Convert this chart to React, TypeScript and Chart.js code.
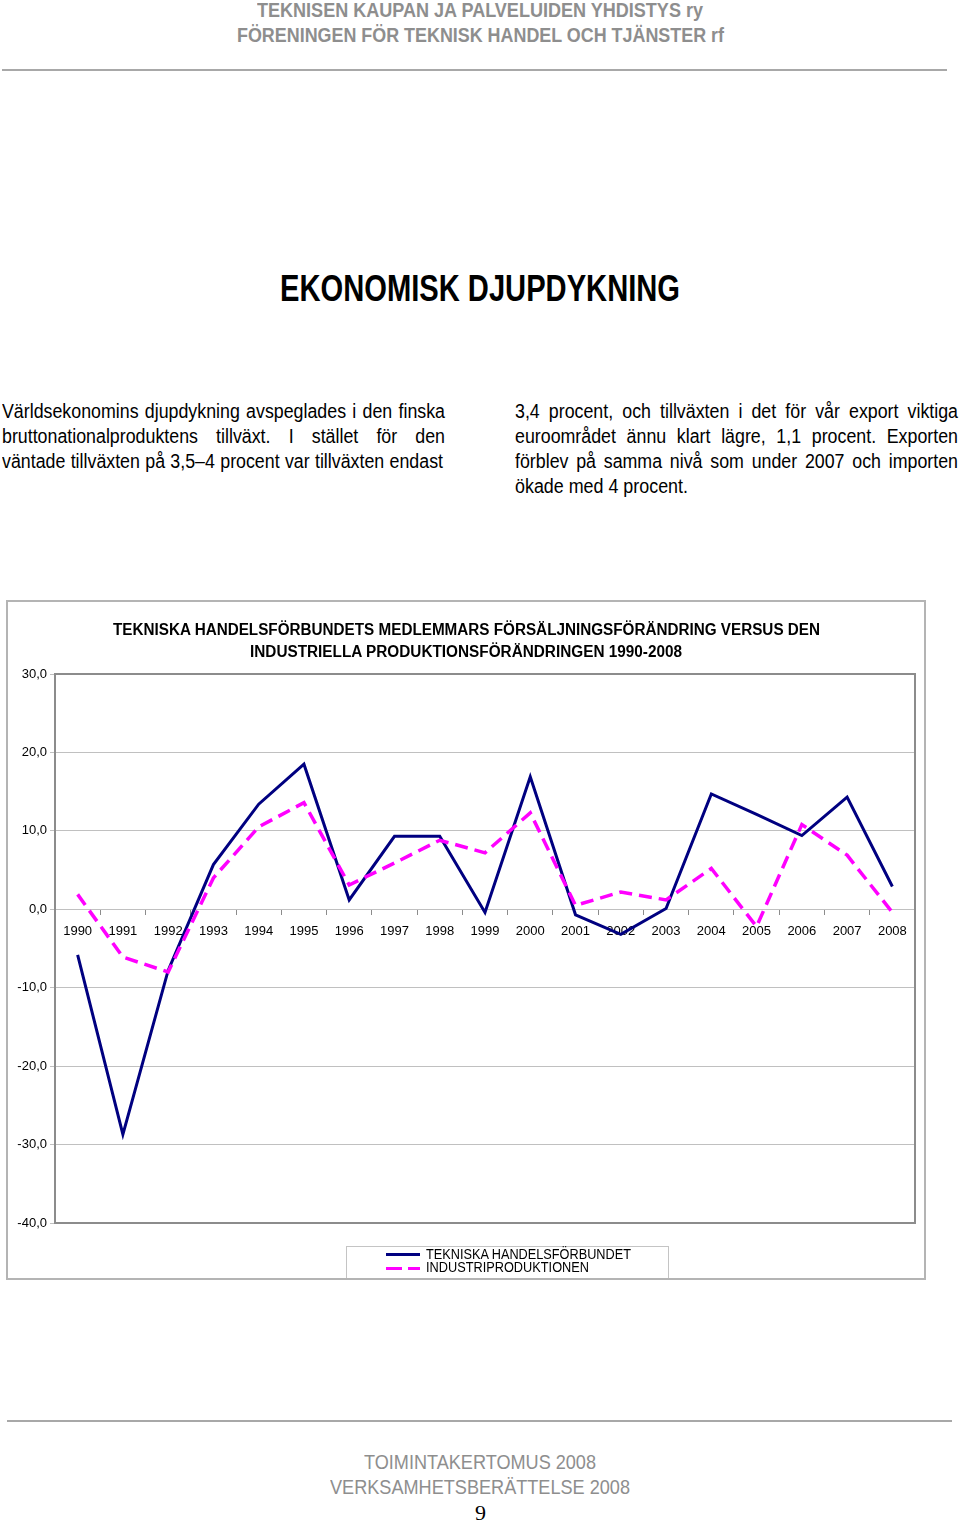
import React, { useEffect, useLayoutEffect, useRef } from "react";
import { Chart, registerables } from "chart.js";

Chart.register(...registerables);

const years = ["1990", "1991", "1992", "1993", "1994", "1995", "1996", "1997", "1998", "1999", "2000", "2001", "2002", "2003", "2004", "2005", "2006", "2007", "2008"];
const tekniska = [-5.8, -28.7, -7.8, 5.7, 13.4, 18.5, 1.2, 9.3, 9.3, -0.4, 16.9, -0.7, -3.2, 0.1, 14.7, 12.1, 9.4, 14.3, 2.9];
const industri = [1.9, -6.1, -8.0, 4.0, 10.5, 13.6, 3.1, 5.9, 8.8, 7.2, 12.3, 0.5, 2.2, 1.2, 5.2, -2.2, 10.8, 6.9, -0.4];
const seriesNames = ["TEKNISKA HANDELSFÖRBUNDET", "INDUSTRIPRODUKTIONEN"];
const chartTitle = [
  "TEKNISKA HANDELSFÖRBUNDETS MEDLEMMARS FÖRSÄLJNINGSFÖRÄNDRING VERSUS DEN",
  "INDUSTRIELLA PRODUKTIONSFÖRÄNDRINGEN 1990-2008",
];
const yMin = -40;
const yMax = 30;
const yStep = 10;

const SANS = '"Liberation Sans", Arial, sans-serif';
const SERIF = '"Liberation Serif", "Times New Roman", serif';

type TLProps = {
  text: string;
  x: number;
  y: number;
  w: number;
  size: number;
  weight?: number;
  color?: string;
  family?: string;
  justify?: boolean;
  base?: number;
};

function TextLine({ text, x, y, w, size, weight = 400, color = "#000", family = SANS, justify = false, base = 1 }: TLProps) {
  const ref = useRef<HTMLDivElement>(null);
  useLayoutEffect(() => {
    const el = ref.current;
    if (!el) return;
    el.style.width = "auto";
    el.style.transform = "none";
    const nat = el.getBoundingClientRect().width;
    let s = w / nat;
    if (justify) {
      s = Math.min(base, w / nat);
      el.style.width = `${w / s}px`;
    }
    el.style.transform = `scaleX(${s})`;
  }, [text, w, justify, base]);
  return (
    <div
      ref={ref}
      style={{
        position: "absolute",
        left: x,
        top: y - size * 0.55,
        fontSize: size,
        lineHeight: `${size}px`,
        fontWeight: weight,
        color,
        fontFamily: family,
        whiteSpace: "nowrap",
        transformOrigin: "0 0",
        textAlign: justify ? "justify" : "left",
        textAlignLast: justify ? "justify" : "auto",
      } as React.CSSProperties}
    >
      {text}
    </div>
  );
}

const framePlugin = {
  id: "plotFrame",
  beforeDatasetsDraw(chart: any) {
    const { ctx, chartArea } = chart;
    ctx.save();
    ctx.strokeStyle = "#8c8c8c";
    ctx.lineWidth = 2;
    ctx.strokeRect(chartArea.left, chartArea.top, chartArea.right - chartArea.left, chartArea.bottom - chartArea.top);
    ctx.restore();
  },
};

function LineChart() {
  const canvasRef = useRef<HTMLCanvasElement>(null);
  useEffect(() => {
    const canvas = canvasRef.current;
    if (!canvas) return;
    const tickFont = { family: SANS, size: 13 };
    const chart = new Chart(canvas, {
      type: "line",
      data: {
        labels: years,
        datasets: [
          {
            label: seriesNames[0],
            data: tekniska,
            borderColor: "#000080",
            backgroundColor: "#000080",
            borderWidth: 3,
            pointRadius: 0,
            tension: 0,
            fill: false,
            order: 1,
          },
          {
            label: seriesNames[1],
            data: industri,
            borderColor: "#ff00ff",
            backgroundColor: "#ff00ff",
            borderWidth: 3.5,
            borderDash: [13, 7],
            pointRadius: 0,
            tension: 0,
            fill: false,
            order: 0,
          },
        ],
      },
      options: {
        animation: false,
        responsive: false,
        maintainAspectRatio: false,
        layout: { padding: { left: 0, right: 9, top: 72, bottom: 55 } },
        plugins: {
          legend: { display: false },
          title: { display: false },
          tooltip: { enabled: false },
        },
        scales: {
          x: {
            position: { y: 0 } as any,
            offset: true,
            grid: { drawOnChartArea: false, drawTicks: true, tickLength: 5, offset: true, color: "#8c8c8c" },
            border: { color: "#c0c0c0" },
            ticks: { font: tickFont, color: "#000", padding: 9, maxRotation: 0, autoSkip: false },
          },
          y: {
            min: yMin,
            max: yMax,
            ticks: {
              stepSize: yStep,
              font: tickFont,
              color: "#000",
              padding: 3,
              callback: (v: any) => Number(v).toFixed(1).replace(".", ","),
            },
            grid: { color: "#c0c0c0", tickLength: 5 },
            border: { display: false },
            afterFit: (s: any) => {
              s.width = 47;
            },
          },
        },
      },
      plugins: [framePlugin],
    });
    return () => chart.destroy();
  }, []);
  return <canvas ref={canvasRef} width={916} height={676} style={{ display: "block", width: 916, height: 676 }} />;
}

export default function App() {
  return (
    <div style={{ position: "absolute", left: 0, top: 0, width: 960, height: 1524, background: "#fff", overflow: "hidden" }}>
      {/* Header */}
      <TextLine text="TEKNISEN KAUPAN JA PALVELUIDEN YHDISTYS ry" x={257} y={11} w={446} size={21} weight={700} color="#8e8e8e" />
      <TextLine text="FÖRENINGEN FÖR TEKNISK HANDEL OCH TJÄNSTER rf" x={237} y={36} w={487} size={21} weight={700} color="#8e8e8e" />
      <div style={{ position: "absolute", left: 2, top: 69, width: 945, height: 2, background: "#a8a8a8" }} />

      {/* Title */}
      <TextLine text="EKONOMISK DJUPDYKNING" x={280} y={291} w={400} size={36} weight={700} color="#000" />

      {/* Body text, left column */}
      <TextLine text="Världsekonomins djupdykning avspeglades i den finska" x={2} y={412} w={443} size={20} justify base={0.89} />
      <TextLine text="bruttonationalproduktens tillväxt. I stället för den" x={2} y={437} w={443} size={20} justify base={0.89} />
      <TextLine text="väntade tillväxten på 3,5–4 procent var tillväxten endast" x={2} y={462} w={441} size={20} justify base={0.89} />

      {/* Body text, right column */}
      <TextLine text="3,4 procent, och tillväxten i det för vår export viktiga" x={515} y={412} w={443} size={20} justify base={0.89} />
      <TextLine text="euroområdet ännu klart lägre, 1,1 procent. Exporten" x={515} y={437} w={443} size={20} justify base={0.89} />
      <TextLine text="förblev på samma nivå som under 2007 och importen" x={515} y={462} w={443} size={20} justify base={0.89} />
      <TextLine text="ökade med 4 procent." x={515} y={487} w={173} size={20} />

      {/* Chart box */}
      <div style={{ position: "absolute", left: 6, top: 600, width: 916, height: 676, border: "2px solid #b4b4b4", background: "#fff" }}>
        <LineChart />
      </div>
      <TextLine text={chartTitle[0]} x={113} y={631} w={707} size={16} weight={700} />
      <TextLine text={chartTitle[1]} x={250} y={653} w={432} size={16} weight={700} />

      {/* Legend */}
      <div style={{ position: "absolute", left: 346, top: 1246, width: 321, height: 31, border: "1px solid #c4c4c4", borderBottom: "none", background: "#fff" }} />
      <div style={{ position: "absolute", left: 386, top: 1253, width: 34, height: 3, background: "#000080" }} />
      <div style={{ position: "absolute", left: 386, top: 1267, width: 16, height: 3, background: "#ff00ff" }} />
      <div style={{ position: "absolute", left: 408, top: 1267, width: 12, height: 3, background: "#ff00ff" }} />
      <TextLine text={seriesNames[0]} x={426} y={1255} w={205} size={14} />
      <TextLine text={seriesNames[1]} x={426} y={1268} w={163} size={14} />

      {/* Footer */}
      <div style={{ position: "absolute", left: 7, top: 1420, width: 945, height: 2, background: "#a8a8a8" }} />
      <TextLine text="TOIMINTAKERTOMUS 2008" x={364} y={1463} w={232} size={21} color="#8e8e8e" />
      <TextLine text="VERKSAMHETSBERÄTTELSE 2008" x={330} y={1488} w={300} size={21} color="#8e8e8e" />
      <TextLine text="9" x={475} y={1514} w={11} size={22} family={SERIF} />
    </div>
  );
}
